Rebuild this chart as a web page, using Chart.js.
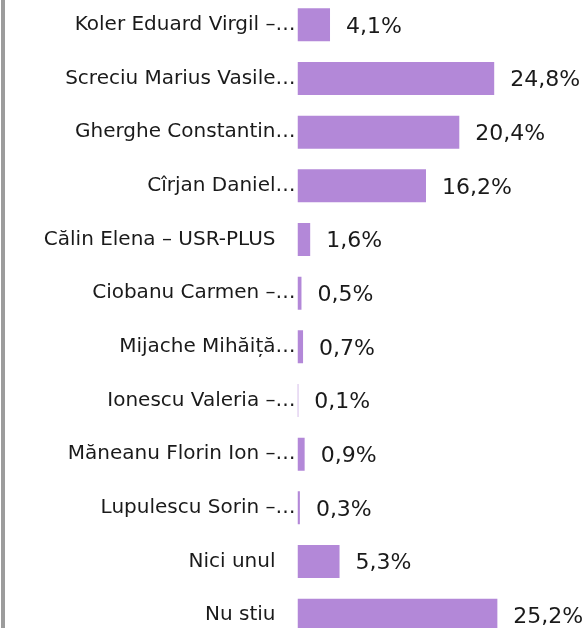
<!DOCTYPE html>
<html>
<head>
<meta charset="utf-8">
<script src="https://cdn.jsdelivr.net/npm/chart.js@4"></script>
<style>
  body { margin: 0; background: #fff; overflow: hidden; }
  #edge { position: absolute; left: 1px; top: 0; width: 4px; height: 628px; background: #9c9c9c; }
  #wrap { position: absolute; left: 0; top: -2px; }
</style>
</head>
<body>
<div id="wrap"><canvas id="myCanvas" width="587" height="644"></canvas></div>
<div id="edge"></div>
<script>
// labels as shown (already cut off in the original)
const categories = [
  "Koler Eduard Virgil –…",
  "Screciu Marius Vasile…",
  "Gherghe Constantin…",
  "Cîrjan Daniel…",
  "Călin Elena – USR-PLUS",
  "Ciobanu Carmen –…",
  "Mijache Mihăiță…",
  "Ionescu Valeria –…",
  "Măneanu Florin Ion –…",
  "Lupulescu Sorin –…",
  "Nici unul",
  "Nu stiu"
];
const values = [4.1, 24.8, 20.4, 16.2, 1.6, 0.5, 0.7, 0.1, 0.9, 0.3, 5.3, 25.2];

const fmt = v => v.toFixed(1).replace('.', ',') + '%';

const valueLabels = {
  id: 'valueLabels',
  afterDatasetsDraw(chart) {
    const ctx = chart.ctx;
    const meta = chart.getDatasetMeta(0);
    ctx.save();
    ctx.font = '22px "DejaVu Sans"';
    ctx.fillStyle = '#1a1a1a';
    ctx.textAlign = 'left';
    ctx.textBaseline = 'middle';
    meta.data.forEach((bar, i) => {
      ctx.fillText(fmt(values[i]), bar.x + 16, bar.y + 2);
    });
    ctx.restore();
  }
};

let ctx = document.getElementById("myCanvas").getContext("2d");

new Chart(ctx, {
  type: "bar",
  data: {
    labels: categories,
    datasets: [{
      data: values,
      backgroundColor: "#b388d8",
      borderWidth: 0,
      barPercentage: 0.615,
      categoryPercentage: 1
    }]
  },
  options: {
    indexAxis: 'y',
    responsive: false,
    animation: false,
    layout: { padding: 0 },
    plugins: {
      legend: { display: false },
      tooltip: { enabled: false }
    },
    scales: {
      x: {
        display: false,
        min: 0,
        max: 36.5
      },
      y: {
        grid: { display: false, drawTicks: false },
        border: { display: false },
        ticks: {
          autoSkip: false,
          padding: 2,
          color: '#1a1a1a',
          font: { family: 'DejaVu Sans', size: 20 },
          // full labels sit a bit further left, the cut ones run up to the bar
          callback(value) {
            const lbl = this.getLabelForValue(value);
            return lbl.endsWith('…') ? lbl : lbl + '\u2002\u2002';
          }
        },
        afterFit(scale) {
          scale.width = 297.5;
          scale.paddingTop = 0;
          scale.paddingBottom = 0;
        }
      }
    }
  },
  plugins: [valueLabels]
});
</script>
</body>
</html>
